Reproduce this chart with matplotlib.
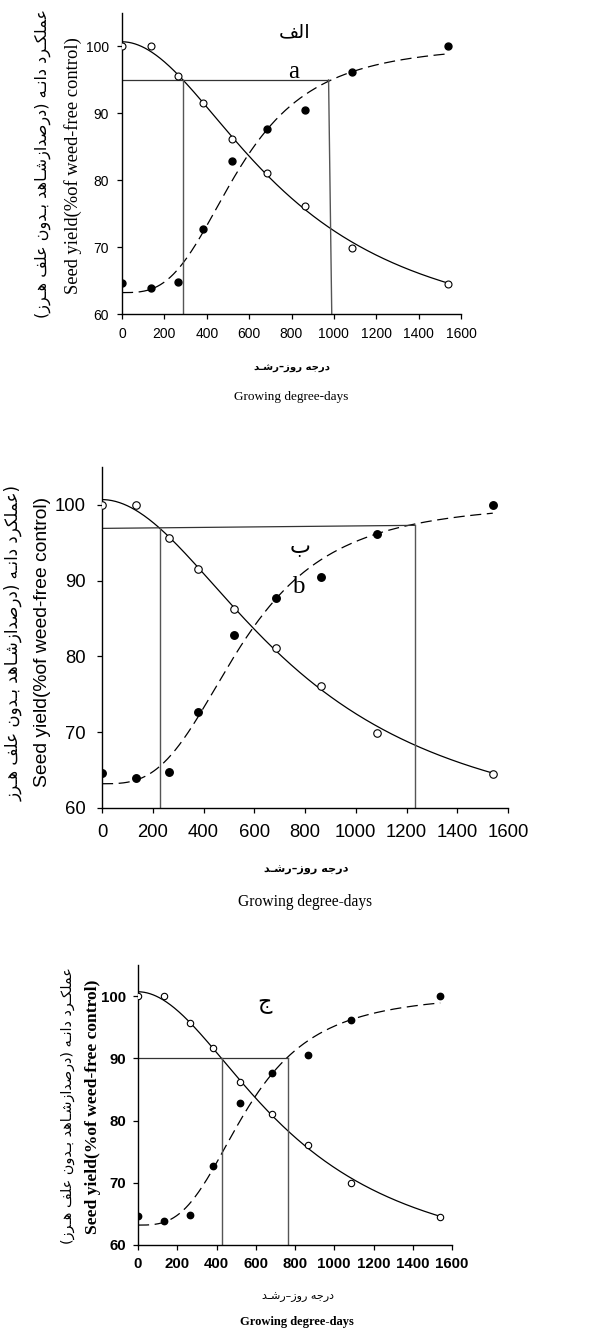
import numpy as np
import matplotlib
matplotlib.use('Agg')
import matplotlib.pyplot as plt

plt.rcParams['lines.scale_dashes'] = False

# values (same data in all three panels)
gdd = [0, 135, 265, 380, 520, 685, 865, 1085, 1540]
yield_weedy = [100.0, 100.0, 95.6, 91.6, 86.2, 81.1, 76.1, 69.9, 64.5]    # open circles
yield_free = [64.6, 63.9, 64.8, 72.7, 82.8, 87.7, 90.5, 96.2, 100.0]      # filled circles

# fitted log-logistic curves
weedy_fit = (55.0, 100.7, 781.0, 1.95)   # low, high, e, b  (decreasing)
free_fit = (63.2, 100.5, 556.0, 3.05)    # low, high, e, b  (increasing)

# critical period guide lines for the three panels
cut_left = [95.0, 96.9, 90.0]
cut_right = [95.0, 97.3, 90.0]
start_x = [289, 230, 430]
end_top = [975, 1233, 763]
end_bot = [990, 1233, 763]

panel_fa = ['الف', 'ب', 'ج']
panel_en = ['a', 'b', '']

W, H = 603, 1331

FORMS = {
    'ا': ('\uFE8D', '\uFE8E', None, None),
    'ب': ('\uFE8F', '\uFE90', '\uFE91', '\uFE92'),
    'ج': ('\uFE9D', '\uFE9E', '\uFE9F', '\uFEA0'),
    'د': ('\uFEA9', '\uFEAA', None, None),
    'ر': ('\uFEAD', '\uFEAE', None, None),
    'ز': ('\uFEAF', '\uFEB0', None, None),
    'ش': ('\uFEB5', '\uFEB6', '\uFEB7', '\uFEB8'),
    'ص': ('\uFEB9', '\uFEBA', '\uFEBB', '\uFEBC'),
    'ع': ('\uFEC9', '\uFECA', '\uFECB', '\uFECC'),
    'ف': ('\uFED1', '\uFED2', '\uFED3', '\uFED4'),
    'ل': ('\uFEDD', '\uFEDE', '\uFEDF', '\uFEE0'),
    'م': ('\uFEE1', '\uFEE2', '\uFEE3', '\uFEE4'),
    'ن': ('\uFEE5', '\uFEE6', '\uFEE7', '\uFEE8'),
    'ه': ('\uFEE9', '\uFEEA', '\uFEEB', '\uFEEC'),
    'و': ('\uFEED', '\uFEEE', None, None),
    'ک': ('\uFB8E', '\uFB8F', '\uFB90', '\uFB91'),
    'ـ': ('ـ', 'ـ', 'ـ', 'ـ'),
}


def fa(s):
    # crude persian shaping + right-to-left order for matplotlib
    out = []
    for i, c in enumerate(s):
        if c not in FORMS:
            out.append(c)
            continue
        f = FORMS[c]
        prev = s[i - 1] if i > 0 else ''
        nxt = s[i + 1] if i < len(s) - 1 else ''
        jp = prev in FORMS and FORMS[prev][2] is not None
        jn = f[2] is not None and nxt in FORMS
        if jp and jn:
            out.append(f[3])
        elif jp:
            out.append(f[1])
        elif jn:
            out.append(f[2])
        else:
            out.append(f[0])
    vis = ''.join(reversed(out))
    return vis.translate(str.maketrans('()', ')('))


ylab_fa = ['عملکـرد دانـه (درصدازشـاهد بـدون علف هـرز)',
           '(عملکرد دانـه (درصدازشـاهد بـدون علف هـرز',
           'عملکـرد دانـه (درصدازشـاهد بـدون علف هـرز)']
xlab_fa = 'درجه روز–رشـد'
ylab_en = 'Seed yield(%of weed-free control)'
xlab_en = 'Growing degree-days'


def loglog(x, p, up):
    low, high, e, b = p
    r = (x / e) ** b
    if up:
        return low + (high - low) * r / (1 + r)
    return low + (high - low) / (1 + r)


def fx(px):
    return px / W


def fy(py):
    return 1 - py / H


# axes boxes in pixels: left, top, right, bottom
boxes = [(122, 13, 461, 314), (102, 467, 508, 808), (138, 965, 452, 1245)]
tick_size = [10, 13.3, 10.8]
tick_weight = ['normal', 'normal', 'bold']
tick_pad = [6, 8, 5]
msize = [5, 5.4, 4.6]

fig = plt.figure(figsize=(W / 100, H / 100), dpi=100)
xs = np.linspace(0, 1540, 400)

for k, (l, t, r, b) in enumerate(boxes):
    ax = fig.add_axes([fx(l), fy(b), (r - l) / W, (b - t) / H])
    ax.plot(xs, loglog(xs, weedy_fit, False), color='black', lw=0.9)
    ax.plot(xs, loglog(xs, free_fit, True), color='black', lw=0.9, dashes=(8, 4))
    ax.plot(gdd, yield_weedy, 'o', ms=msize[k], mfc='white', mec='black', mew=0.8, zorder=4)
    ax.plot(gdd, yield_free, 'o', ms=msize[k], mfc='black', mec='black', zorder=4)

    gc = '#555555'
    ax.plot([0, end_top[k]], [cut_left[k], cut_right[k]], color='#333333', lw=0.9)
    ax.plot([start_x[k], start_x[k]], [60, cut_left[k] + (cut_right[k] - cut_left[k]) * start_x[k] / end_top[k]],
            color=gc, lw=1.0)
    ax.plot([end_bot[k], end_top[k]], [60, cut_right[k]], color=gc, lw=1.0)

    ax.set_xlim(0, 1600)
    ax.set_ylim(60, 105)
    ax.set_xticks(np.arange(0, 1601, 200))
    ax.set_yticks(np.arange(60, 101, 10))
    for s in ['top', 'right']:
        ax.spines[s].set_visible(False)
    for s in ['left', 'bottom']:
        ax.spines[s].set_linewidth(1.0)
    ax.tick_params(direction='out', length=3.5, width=0.9, labelsize=tick_size[k], pad=tick_pad[k])
    for lab in ax.get_xticklabels() + ax.get_yticklabels():
        lab.set_family('Liberation Sans')
        lab.set_fontweight(tick_weight[k])

# panel letters
fig.axes[0].text(816, 102.2, fa(panel_fa[0]), family='DejaVu Sans', fontsize=14,
                 ha='center', va='center')
fig.axes[0].text(812, 95.3, panel_en[0], family='Liberation Serif', fontsize=18,
                 ha='center', va='baseline')
fig.axes[1].text(780, 94.4, fa(panel_fa[1]), family='DejaVu Sans', fontsize=16,
                 ha='center', va='center')
fig.axes[1].text(774, 89.1, panel_en[1], family='Liberation Serif', fontsize=18,
                 ha='center', va='center')
fig.axes[2].text(647, 98.9, fa(panel_fa[2]), family='DejaVu Sans', fontsize=16,
                 ha='center', va='center')

# axis titles (placed by hand in figure pixels)
# panel a
fig.text(fx(43), fy(163), fa(ylab_fa[0]), rotation=90, family='DejaVu Sans', fontsize=11.5,
         ha='center', va='center')
fig.text(fx(73), fy(166), ylab_en, rotation=90, family='Liberation Serif', fontsize=13.3,
         ha='center', va='center')
fig.text(fx(292), fy(368), fa(xlab_fa), family='DejaVu Sans', fontsize=7.3, fontweight='bold',
         ha='center', va='center')
fig.text(fx(291), fy(397), xlab_en, family='Liberation Serif', fontsize=9.5,
         ha='center', va='center')
# panel b
fig.text(fx(13), fy(643), fa(ylab_fa[1]), rotation=90, family='DejaVu Sans', fontsize=12,
         ha='center', va='center')
fig.text(fx(43), fy(642), ylab_en, rotation=90, family='Liberation Sans', fontsize=13.9,
         ha='center', va='center')
fig.text(fx(306), fy(870), fa(xlab_fa), family='DejaVu Sans', fontsize=8.1, fontweight='bold',
         ha='center', va='center')
fig.text(fx(305), fy(902), xlab_en, family='Liberation Serif', fontsize=11.2,
         ha='center', va='center')
# panel c
fig.text(fx(68), fy(1106), fa(ylab_fa[2]), rotation=90, family='DejaVu Sans', fontsize=10.4,
         ha='center', va='center')
fig.text(fx(93), fy(1107), ylab_en, rotation=90, family='Liberation Serif', fontsize=12.6,
         fontweight='bold', ha='center', va='center')
fig.text(fx(298), fy(1297), fa(xlab_fa), family='DejaVu Sans', fontsize=8,
         ha='center', va='center')
fig.text(fx(297), fy(1322), xlab_en, family='Liberation Serif', fontsize=9, fontweight='bold',
         ha='center', va='center')

fig.savefig('out.png', dpi=100)
